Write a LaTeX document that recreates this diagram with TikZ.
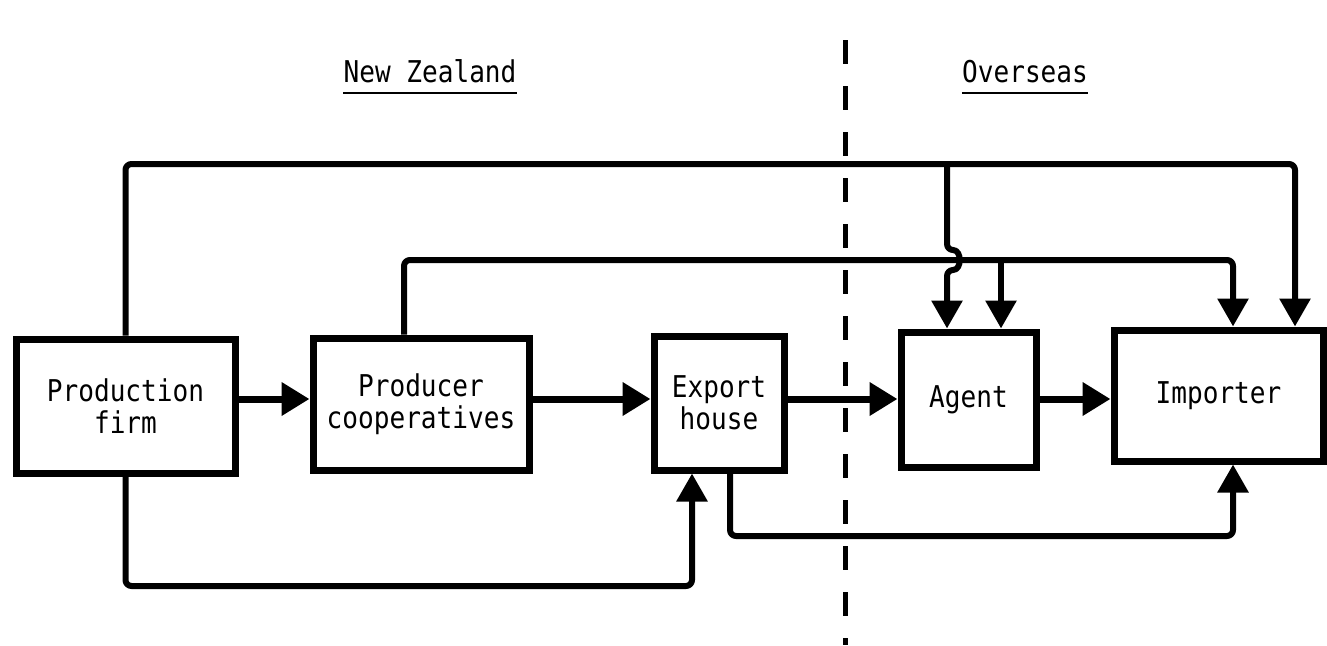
\documentclass[tikz,border=0pt]{standalone}
\usepackage{fontspec}
\usetikzlibrary{arrows.meta,calc}
\newfontfamily\typer[FakeStretch=0.87]{DejaVu Sans Mono}

\begin{document}
\begin{tikzpicture}[x=1pt,y=-1pt,
  box/.style={draw, rectangle, line width=7pt, inner sep=0pt, align=center,
    font=\typer\fontsize{30}{32}\selectfont},
  flow/.style={line width=7pt, -{Triangle[length=28pt,width=32pt]}},
  link/.style={line width=6pt, line join=round, rounded corners=6pt},
  linkarrow/.style={link, -{Triangle[length=28pt,width=30pt]}},
  divider/.style={line width=5pt, dash pattern=on 24pt off 22pt},
  heading/.style={font=\typer\fontsize{30}{32}\selectfont, inner sep=0pt, anchor=base},
  underline/.style={line width=2.5pt}
]
\fill[white] (0,0) rectangle (1327,645);
\useasboundingbox (0,0) rectangle (1327,645);

% region headings
\node[heading] (nz) at (430,82) {New Zealand};
\node[heading] (os) at (1025,82) {Overseas};
\draw[underline] ([yshift=-11pt]nz.base west) -- ([yshift=-11pt]nz.base east);
\draw[underline] ([yshift=-11pt]os.base west) -- ([yshift=-11pt]os.base east);

% border between New Zealand and overseas
\coordinate (dtop) at (845,40);
\coordinate (dbot) at (845,645);
\draw[divider] (dtop) -- (dbot);

% organisations
\node[box, minimum width=219pt, minimum height=134pt] (pf)  at (125.5,406) {Production\\firm};
\node[box, minimum width=216pt, minimum height=132pt] (pc)  at (421,404)   {Producer\\cooperatives};
\node[box, minimum width=130pt, minimum height=134pt] (eh)  at (719,403)   {Export\\house};
\node[box, minimum width=135pt, minimum height=135pt] (ag)  at (968.5,399.5) {Agent};
\node[box, minimum width=209pt, minimum height=131pt] (imp) at (1218.5,395.5) {Importer};

% routing levels and columns
\coordinate (row)  at (0,399);
\coordinate (top)  at (0,164);
\coordinate (mid2) at (0,260);
\coordinate (bot1) at (0,536);
\coordinate (bot2) at (0,586);
\coordinate (xq) at (404,0);
\coordinate (xa) at (947,0);
\coordinate (xb) at (1001,0);
\coordinate (xc) at (1233,0);
\coordinate (xd) at (1295,0);
\coordinate (xe) at (692,0);
\coordinate (xf) at (730,0);

% main chain
\draw[flow] (pf.east |- row) -- (pc.west |- row);
\draw[flow] (pc.east |- row) -- (eh.west |- row);
\draw[flow] (eh.east |- row) -- (ag.west |- row);
\draw[flow] (ag.east |- row) -- (imp.west |- row);

% producer cooperatives to agent and importer
\draw[linkarrow] (xq |- pc.north) -- (xq |- mid2) -- (xc |- mid2) -- (xc |- imp.north);
\draw[linkarrow] (xb |- mid2) -- (xb |- ag.north);

% production firm to agent and importer
\draw[linkarrow] (pf.north) -- (pf.north |- top) -- (xd |- top) -- (xd |- imp.north);
\coordinate (hopA) at ($(xa |- mid2)+(0,-10)$);
\coordinate (hopB) at ($(xa |- mid2)+(0,10)$);
\draw[linkarrow] (xa |- top) -- (hopA) .. controls +(15,0) and +(15,0) .. (hopB) -- (xa |- ag.north);

% production firm to export house
\draw[linkarrow] (pf.south) -- (pf.south |- bot2) -- (xe |- bot2) -- (xe |- eh.south);

% export house to importer
\draw[linkarrow] (xf |- eh.south) -- (xf |- bot1) -- (xc |- bot1) -- (xc |- imp.south);
\end{tikzpicture}
\end{document}
